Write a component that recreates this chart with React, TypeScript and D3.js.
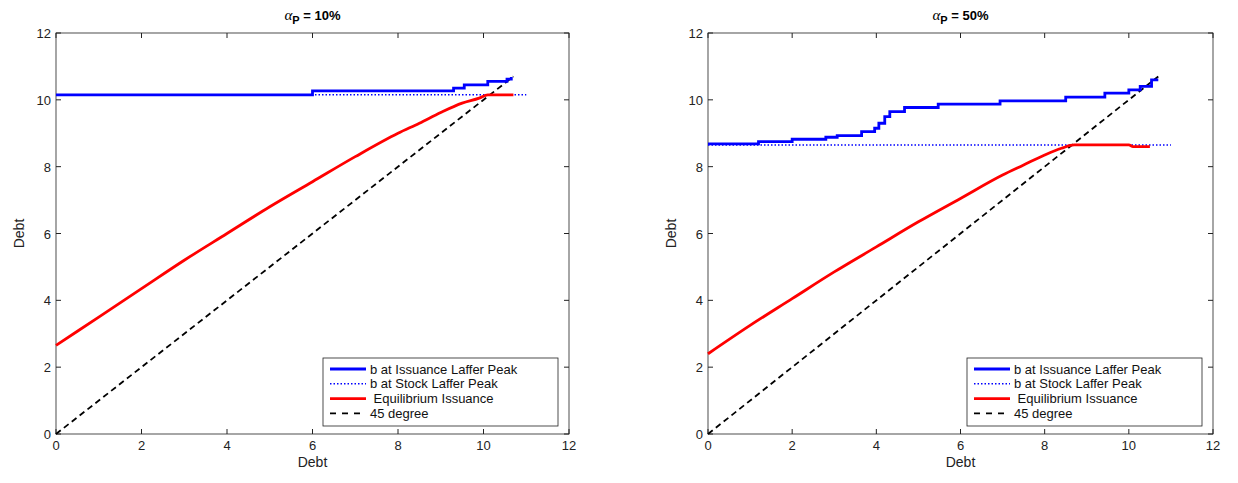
import React from 'react';
import * as d3 from 'd3';

type Pt = [number, number];

const leftIssuancePeak: Pt[] = [[0, 10.15], [6.0, 10.27], [9.3, 10.35], [9.55, 10.45], [10.1, 10.55], [10.55, 10.62], [10.65, 10.68]];
const leftStockPeak: Pt[] = [[0, 10.15], [11, 10.15]];
const leftEquilibrium: Pt[] = [[0, 2.65], [1, 3.5], [2, 4.35], [3, 5.2], [4, 6.0], [5, 6.8], [6, 7.55], [7, 8.3], [8, 9.0], [8.5, 9.3], [9, 9.62], [9.5, 9.9], [9.9, 10.05], [10.1, 10.15], [10.7, 10.15]];

const rightIssuancePeak: Pt[] = [[0, 8.68], [1.2, 8.75], [2.0, 8.82], [2.8, 8.88], [3.07, 8.93], [3.65, 9.05], [3.96, 9.15], [4.06, 9.3], [4.2, 9.5], [4.32, 9.65], [4.67, 9.77], [5.47, 9.87], [6.94, 9.97], [8.5, 10.08], [9.43, 10.2], [10.0, 10.3], [10.27, 10.4], [10.54, 10.6], [10.7, 10.6]];
const rightStockPeak: Pt[] = [[0, 8.65], [11, 8.65]];
const rightEquilibrium: Pt[] = [[0, 2.4], [1, 3.25], [2, 4.05], [3, 4.85], [4, 5.6], [5, 6.35], [6, 7.05], [7, 7.75], [7.5, 8.05], [8, 8.35], [8.4, 8.55], [8.7, 8.65], [10.0, 8.65], [10.1, 8.6], [10.5, 8.6]];

const diagonal: Pt[] = [[0, 0], [10.7, 10.7]];
const ticks = [0, 2, 4, 6, 8, 10, 12];
const legendLabels = ['b at Issuance Laffer Peak', 'b at Stock Laffer Peak', ' Equilibrium Issuance', '45 degree'];

const font = 'Helvetica, "Liberation Sans", Arial, sans-serif';

interface PanelProps {
  x0: number;
  width: number;
  pct: string;
  issuance: Pt[];
  stock: Pt[];
  equilibrium: Pt[];
}

const Panel: React.FC<PanelProps> = ({ x0, width, pct, issuance, stock, equilibrium }) => {
  const top = 33;
  const bottom = 434;
  const xs = d3.scaleLinear().domain([0, 12]).range([x0, x0 + width]);
  const ys = d3.scaleLinear().domain([0, 12]).range([bottom, top]);
  const line = d3.line<Pt>().x(d => xs(d[0])).y(d => ys(d[1]));
  const smooth = d3.line<Pt>().x(d => xs(d[0])).y(d => ys(d[1])).curve(d3.curveMonotoneX);
  const step = d3.line<Pt>().x(d => xs(d[0])).y(d => ys(d[1])).curve(d3.curveStepAfter);
  const lx = x0 + width - 246;
  const ly = 358;
  const styles = [
    { stroke: '#0000ff', dash: undefined, w: 2.8 },
    { stroke: '#0000ff', dash: '1.5 2', w: 1.5 },
    { stroke: '#ff0000', dash: undefined, w: 2.8 },
    { stroke: '#000000', dash: '6 6', w: 1.8 },
  ];
  return (
    <g fontFamily={font}>
      <text x={xs(6)} y={20} textAnchor="middle" fontSize={13} fontWeight="bold">
        <tspan fontStyle="italic" fontWeight="normal" fontFamily="serif" fontSize={15}>α</tspan>
        <tspan dy={4} fontSize={11}>P</tspan>
        <tspan dy={-4}>{` = ${pct}`}</tspan>
      </text>
      <rect x={x0} y={top} width={width} height={bottom - top} fill="white" stroke="#222" strokeWidth={0.8} />
      {ticks.map(t => (
        <g key={t}>
          <line x1={xs(t)} x2={xs(t)} y1={bottom} y2={bottom - 5} stroke="#222" />
          <line x1={xs(t)} x2={xs(t)} y1={top} y2={top + 5} stroke="#222" />
          <line x1={x0} x2={x0 + 5} y1={ys(t)} y2={ys(t)} stroke="#222" />
          <line x1={x0 + width} x2={x0 + width - 5} y1={ys(t)} y2={ys(t)} stroke="#222" />
          <text x={xs(t)} y={bottom + 16} textAnchor="middle" fontSize={13} fill="#222">{t}</text>
          <text x={x0 - 5} y={ys(t) + 5} textAnchor="end" fontSize={13} fill="#222">{t}</text>
        </g>
      ))}
      <text x={xs(6)} y={bottom + 33} textAnchor="middle" fontSize={14} fill="#222">Debt</text>
      <text transform={`translate(${x0 - 32},${ys(6)}) rotate(-90)`} textAnchor="middle" fontSize={14} fill="#222">Debt</text>
      <path d={line(diagonal)!} fill="none" stroke="black" strokeWidth={1.8} strokeDasharray="6 4" />
      <path d={line(stock)!} fill="none" stroke="#0000ff" strokeWidth={1.5} strokeDasharray="1.5 2" />
      <path d={smooth(equilibrium)!} fill="none" stroke="#ff0000" strokeWidth={2.8} />
      <path d={step(issuance)!} fill="none" stroke="#0000ff" strokeWidth={2.8} />
      <rect x={lx} y={ly} width={235} height={68} fill="white" stroke="#222" strokeWidth={0.8} />
      {legendLabels.map((l, i) => (
        <g key={l}>
          <line x1={lx + 7} x2={lx + 43} y1={ly + 11 + i * 14.8} y2={ly + 11 + i * 14.8} stroke={styles[i].stroke} strokeWidth={styles[i].w} strokeDasharray={styles[i].dash} />
          <text x={lx + 47} y={ly + 15.5 + i * 14.8} fontSize={13} fill="#111" xmlSpace="preserve">{l}</text>
        </g>
      ))}
    </g>
  );
};

const App: React.FC = () => (
  <svg width={1238} height={483} style={{ position: 'absolute', left: 0, top: 0, background: 'white' }}>
    <Panel x0={56} width={513} pct="10%" issuance={leftIssuancePeak} stock={leftStockPeak} equilibrium={leftEquilibrium} />
    <Panel x0={708} width={505} pct="50%" issuance={rightIssuancePeak} stock={rightStockPeak} equilibrium={rightEquilibrium} />
  </svg>
);

export default App;
